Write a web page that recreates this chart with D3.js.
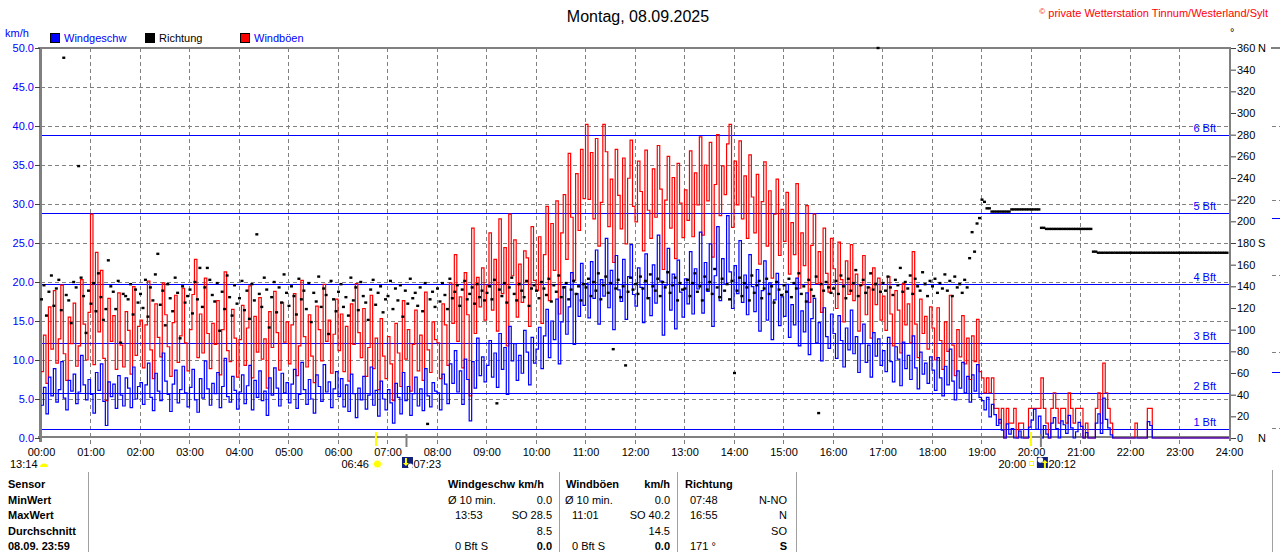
<!DOCTYPE html>
<html>
<head>
  <meta charset="utf-8">
  <title>Wind Montag, 08.09.2025</title>
  <script src="https://d3js.org/d3.v7.min.js"></script>
  <style>
    body { margin: 0; background: #fff; }
    svg text { font-family: "Liberation Sans", Arial, sans-serif; font-size: 11px; }
  </style>
</head>
<body>
  <div id="chart"></div>
</body>

<script>
  // one value every 3 minutes, one line per hour (20 values)
  const stepMin = 3;

  // Windgeschwindigkeit km/h
  const windSpeed = [
    4.2,6.5,3.1,7.8,5.4,8.9,4.6,6.2,9.8,5.1,3.6,7.4,6.0,8.2,4.4,5.9,10.6,6.8,4.9,7.5,
    5.6,3.2,8.4,6.1,9.5,4.7,1.6,7.2,5.3,6.9,3.8,8.0,5.5,4.1,7.7,6.4,3.9,9.1,5.0,6.6,
    7.1,4.3,6.8,9.6,5.2,3.5,8.3,6.0,4.8,10.9,7.3,5.6,3.4,6.9,8.7,4.5,6.2,9.2,5.8,4.0,
    6.5,8.8,4.9,3.3,7.6,5.1,9.9,6.3,4.2,7.0,5.7,8.4,3.9,6.6,10.2,5.3,4.6,7.9,6.1,3.7,
    5.9,8.1,4.4,6.7,9.3,3.6,7.4,5.2,8.6,4.8,6.0,2.9,7.7,5.5,9.0,6.4,4.1,8.3,5.8,7.1,
    4.5,6.9,8.8,3.8,5.6,9.7,6.2,4.3,7.5,5.0,3.2,8.1,6.6,4.7,9.4,5.9,7.2,3.9,6.3,8.5,
    5.3,7.6,4.0,6.8,3.4,8.2,5.7,2.6,6.4,4.9,7.9,3.7,5.5,9.1,4.2,6.1,2.8,7.3,5.0,3.6,
    6.2,4.5,1.9,7.0,5.2,3.1,8.4,4.8,6.6,2.9,5.7,7.8,4.1,6.3,3.5,8.9,5.4,4.0,7.1,6.0,
    5.8,3.6,8.2,6.9,4.4,9.5,7.0,11.2,5.9,8.6,4.3,10.1,7.5,2.2,9.8,6.4,12.8,8.0,10.4,7.2,
    9.3,12.5,7.8,10.9,6.5,13.4,8.8,11.6,5.6,14.3,9.9,12.1,7.4,10.6,8.3,13.8,11.0,6.8,12.9,9.6,
    11.4,14.2,8.9,13.1,16.5,10.3,15.0,12.6,17.8,9.5,14.9,19.4,13.3,16.8,21.2,12.0,18.5,15.6,22.4,17.0,
    19.8,15.4,22.6,17.9,24.1,14.6,20.3,18.2,25.6,16.7,21.5,13.9,23.4,19.0,17.5,22.9,15.2,20.7,24.8,18.4,
    16.9,21.8,19.3,14.8,23.6,18.0,15.7,22.2,17.3,26.0,20.1,13.2,19.6,24.3,16.4,21.0,14.0,22.8,18.7,15.5,
    20.4,17.2,23.9,15.9,21.7,19.1,26.4,16.0,22.5,18.8,24.9,14.3,20.8,27.1,17.6,23.0,19.7,28.5,21.3,16.6,
    22.1,18.5,25.3,17.4,20.9,15.8,23.5,19.4,16.2,21.6,13.7,18.9,22.7,15.1,19.9,12.6,17.7,21.1,14.4,18.1,
    15.6,19.7,12.9,17.1,14.5,20.5,11.8,16.3,13.6,18.6,10.7,15.3,17.9,12.2,14.8,9.9,16.7,13.0,11.5,15.9,
    13.4,10.2,15.7,12.5,9.1,14.1,11.3,16.4,10.8,13.0,8.4,12.1,14.6,9.7,11.9,7.8,13.5,10.5,12.7,9.3,
    11.2,8.5,12.9,9.8,7.2,11.7,10.1,6.7,12.3,8.9,10.6,7.5,13.1,9.0,6.3,11.0,8.2,9.6,7.0,10.4,
    8.7,6.1,10.3,7.7,5.4,9.2,6.8,11.4,7.3,4.9,8.6,6.4,9.7,5.8,7.9,4.6,8.1,6.0,9.4,5.2,
    4.8,3.6,5.2,2.7,4.3,3.0,1.6,2.4,1.0,0.0,1.8,0.5,1.2,0.0,0.0,0.9,0.0,0.0,0.0,1.4,
    2.3,3.7,1.1,2.8,0.0,1.6,0.5,0.0,1.9,2.6,1.2,0.0,2.2,1.7,0.6,2.9,1.3,0.0,0.8,2.0,
    1.5,0.0,0.7,0.0,0.0,0.0,1.9,3.1,0.6,5.1,2.4,1.3,0.4,0.0,0.0,0.0,0.0,0.0,0.0,0.0,
    0.0,0.0,0.0,0.0,0.0,0.0,0.0,2.1,1.6,0.0,0.0,0.0,0.0,0.0,0.0,0.0,0.0,0.0,0.0,0.0,
    0.0,0.0,0.0,0.0,0.0,0.0,0.0,0.0,0.0,0.0,0.0,0.0,0.0,0.0,0.0,0.0,0.0,0.0,0.0,0.0
  ];

  // Windböen km/h
  const windGust = [
    8.5,13.2,7.0,16.8,11.4,18.9,9.6,12.7,19.6,10.8,7.4,15.5,12.1,17.3,9.2,11.8,20.3,14.6,10.0,16.1,
    28.7,9.4,23.8,13.6,21.5,10.2,4.8,17.9,12.4,15.7,8.8,18.6,11.9,9.1,16.2,13.8,8.2,19.4,10.6,14.3,
    15.1,9.0,14.5,20.1,11.3,7.6,17.2,12.9,10.4,19.9,15.8,11.7,7.9,14.8,18.3,9.7,13.1,19.2,12.2,8.6,
    13.9,18.4,22.9,10.3,15.9,10.9,20.5,13.4,8.9,14.7,12.0,17.6,8.1,13.9,21.3,11.2,9.8,16.5,12.8,7.8,
    12.6,17.0,9.3,14.1,19.5,7.7,15.6,11.0,18.0,10.1,12.7,6.4,16.2,11.6,18.8,13.5,8.7,17.4,12.3,14.9,
    9.5,14.5,18.5,8.0,11.8,20.2,13.0,9.1,15.8,10.5,7.1,16.9,13.9,9.9,19.7,12.4,15.1,8.3,13.3,17.8,
    11.2,15.9,8.5,14.3,7.3,17.2,12.0,19.8,13.5,10.3,16.6,7.9,11.6,18.3,8.9,12.8,6.2,15.3,10.5,7.6,
    13.0,9.5,4.8,14.7,10.9,6.6,17.6,10.1,13.9,6.0,12.0,16.4,8.6,13.2,7.4,18.7,11.3,8.4,14.9,12.6,
    12.2,7.6,17.2,14.5,9.3,19.9,14.7,23.5,12.4,18.1,9.0,21.2,15.8,5.4,26.9,13.4,20.6,16.8,21.8,15.1,
    19.5,26.3,16.4,22.9,13.7,28.1,18.5,24.4,11.8,28.7,20.8,25.4,15.5,22.3,17.4,24.0,23.1,14.3,27.1,20.2,
    18.9,25.8,14.7,23.5,29.7,17.6,27.5,21.5,30.4,15.9,26.3,31.2,22.9,36.5,28.3,20.2,33.9,26.6,37.0,30.7,
    40.2,30.6,36.6,28.1,38.4,24.6,30.2,40.2,36.7,27.1,33.2,22.5,37.0,31.1,26.8,35.9,24.9,33.3,38.2,29.7,
    27.7,35.5,31.6,24.0,36.9,29.2,25.6,34.5,28.3,37.5,31.9,21.6,30.5,36.1,26.9,33.4,23.0,35.2,30.1,25.7,
    31.8,27.9,36.8,25.8,34.0,29.9,38.6,26.0,35.0,30.4,37.9,23.2,32.5,38.9,28.5,34.9,31.2,37.7,40.2,27.0,
    35.5,29.9,38.1,28.1,33.6,25.6,36.3,30.9,26.3,33.8,22.3,30.3,35.4,24.6,31.7,20.5,28.7,33.2,23.4,29.3,
    25.2,31.5,21.0,27.6,23.5,32.6,19.2,26.3,22.1,29.8,17.4,24.7,28.7,19.8,23.9,16.1,26.9,21.1,18.7,25.6,
    21.7,16.6,25.1,20.3,14.9,22.7,18.4,24.8,17.6,21.0,13.7,19.6,23.4,15.8,19.3,12.8,21.8,17.1,20.5,15.1,
    18.2,13.8,20.7,15.9,11.8,18.9,16.4,10.9,19.8,14.5,17.2,12.2,23.9,14.6,10.3,17.8,13.4,15.6,11.4,16.8,
    14.1,10.0,16.7,12.5,8.8,14.9,11.1,18.3,11.9,8.0,13.9,10.4,15.7,9.5,12.8,7.5,13.1,9.8,15.2,8.5,
    7.7,5.8,7.7,5.8,7.7,3.8,3.8,1.9,3.8,0.0,3.8,1.9,1.9,3.8,0.0,1.9,1.9,0.0,0.0,3.8,
    3.8,3.8,3.8,3.8,7.7,3.8,1.9,0.0,3.8,5.8,3.8,1.9,3.8,3.8,1.9,5.8,3.8,1.9,3.8,3.8,
    3.8,0.0,1.9,0.0,0.0,0.0,3.8,5.8,1.9,9.6,5.8,3.8,1.9,0.0,0.0,0.0,0.0,0.0,0.0,0.0,
    0.0,0.0,1.9,0.0,0.0,0.0,0.0,3.8,3.8,0.0,0.0,0.0,0.0,0.0,0.0,0.0,0.0,0.0,0.0,0.0,
    0.0,0.0,0.0,0.0,0.0,0.0,0.0,0.0,0.0,0.0,0.0,0.0,0.0,0.0,0.0,0.0,0.0,0.0,0.0,0.0
  ];

  // Windrichtung in Grad
  const windDir = [
    128,141,113,135,150,122,138,146,118,351,132,127,106,144,139,251,148,131,97,136,
    124,143,117,152,130,109,119,164,140,135,119,145,88,133,131,128,142,114,137,125,
    133,120,146,112,139,127,151,170,123,136,104,142,129,117,148,134,92,140,125,131,
    137,115,144,128,157,121,139,157,146,132,126,143,99,135,119,150,130,113,141,124,
    129,145,118,136,110,142,127,188,133,121,148,137,102,130,144,116,139,125,151,134,
    122,140,131,114,147,128,136,119,143,107,134,126,149,121,138,132,96,145,128,117,
    135,142,121,130,113,148,127,139,118,144,131,125,109,137,146,123,134,140,116,128,
    131,145,119,138,127,141,112,136,124,147,129,134,122,139,117,143,13,128,135,121,
    138,126,143,132,119,147,129,135,141,122,137,145,128,133,139,124,142,130,136,127,
    134,140,128,146,32,137,131,143,125,139,148,133,127,142,136,130,145,122,138,141,
    136,129,144,138,132,147,126,141,135,150,130,139,143,128,137,145,133,140,127,142,
    139,147,131,144,136,152,128,141,149,134,143,82,138,146,130,140,67,135,148,137,
    142,133,149,138,145,129,151,140,136,147,131,144,139,153,134,141,148,127,143,137,
    138,146,131,143,152,135,140,127,149,137,144,133,156,139,130,147,136,142,128,145,
    60,136,148,131,143,139,127,150,134,141,145,129,138,147,133,140,125,144,137,132,
    141,135,147,130,143,138,152,133,140,126,146,137,131,149,23,142,136,144,139,134,
    138,145,133,150,140,129,147,136,143,155,131,141,146,134,139,152,137,142,360,135,
    143,136,149,139,132,146,141,157,135,144,138,150,133,147,140,136,153,142,131,145,
    140,147,134,143,138,151,136,145,131,149,139,142,134,146,139,166,190,172,198,203,
    220,218,212,212,209,209,209,209,209,209,209,209,211,211,211,211,211,211,211,211,
    211,211,211,211,194,194,193,193,193,193,193,193,193,193,193,193,193,193,193,193,
    193,193,193,193,193,172,172,171,171,171,171,171,171,171,171,171,171,171,171,171,
    171,171,171,171,171,171,171,171,171,171,171,171,171,171,171,171,171,171,171,171,
    171,171,171,171,171,171,171,171,171,171,171,171,171,171,171,171,171,171,171,171
  ];

  // axis ticks and labels
  const speedTicks = [0, 5, 10, 15, 20, 25, 30, 35, 40, 45, 50];
  const dirTicks = [0, 20, 40, 60, 80, 100, 120, 140, 160, 180, 200, 220, 240, 260, 280, 300, 320, 340, 360];
  const dirLetters = [[0, "N"], [180, "S"], [360, "N"]];
  const hourLabels = ["00:00","01:00","02:00","03:00","04:00","05:00","06:00","07:00","08:00","09:00","10:00","11:00",
    "12:00","13:00","14:00","15:00","16:00","17:00","18:00","19:00","20:00","21:00","22:00","23:00","24:00"];

  // Beaufort Grenzen in km/h
  const bftLimits = [1.1, 5.8, 12.2, 19.8, 28.8, 38.9];
  const bftLabels = ["1 Bft", "2 Bft", "3 Bft", "4 Bft", "5 Bft", "6 Bft"];

  // Sonne / Mond in Minuten
  const sunrise = 406, sunset = 1200, moonset = 443, moonrise = 1212;

  // Tabelle unten
  const rowLabels = ["Sensor", "MinWert", "MaxWert", "Durchschnitt", "08.09.  23:59"];
  const speedStats = [["Ø 10 min.", "0.0"], ["13:53", "SO 28.5"], ["", "8.5"], ["0 Bft S", "0.0"]];
  const gustStats = [["Ø 10 min.", "0.0"], ["11:01", "SO 40.2"], ["", "14.5"], ["0 Bft S", "0.0"]];
  const dirStats = [["07:48", "N-NO"], ["16:55", "N"], ["", "SO"], ["171 °", "S"]];

  const svg = d3.select("#chart").append("svg")
    .attr("width", 1280)
    .attr("height", 552);

  const x = d3.scaleLinear().domain([0, 1440]).range([41, 1229]);
  const y = d3.scaleLinear().domain([0, 50]).range([438, 48]);
  const yDir = d3.scaleLinear().domain([0, 360]).range([438, 48]);

  // title + copyright
  svg.append("text").attr("x", 638).attr("y", 22).attr("text-anchor", "middle")
    .style("font-size", "16px").attr("fill", "#000").text("Montag, 08.09.2025");
  const copy = svg.append("text").attr("x", 1268).attr("y", 17).attr("text-anchor", "end").attr("fill", "#ff0000");
  copy.append("tspan").style("font-size", "8px").attr("dy", -3).text("©");
  copy.append("tspan").attr("dy", 3).text(" private Wetterstation Tinnum/Westerland/Sylt");
  svg.append("text").attr("x", 1230).attr("y", 36).attr("fill", "#000").text("°");

  // legend
  svg.append("text").attr("x", 5).attr("y", 37).attr("fill", "#0000ff").text("km/h");
  const legend = [["Windgeschw", "#0000ff", "#0000ff", 50], ["Richtung", "#000", "#000", 145], ["Windböen", "#ff0000", "#0000ff", 240]];
  legend.forEach(function(l) {
    svg.append("rect").attr("x", l[3] + 0.5).attr("y", 33.5).attr("width", 9).attr("height", 9)
      .attr("fill", l[1]).attr("stroke", "#000");
    svg.append("text").attr("x", l[3] + 14).attr("y", 42).attr("fill", l[2]).text(l[0]);
  });

  // dashed grid
  const grid = svg.append("g").attr("stroke", "#808080").attr("stroke-dasharray", "4,3")
    .attr("shape-rendering", "crispEdges");
  grid.selectAll(".hg").data(speedTicks.slice(1, -1)).join("line")
    .attr("x1", 41).attr("x2", 1229)
    .attr("y1", d => y(d)).attr("y2", d => y(d));
  grid.selectAll(".vg").data(d3.range(1, 24)).join("line")
    .attr("x1", d => x(d * 60)).attr("x2", d => x(d * 60))
    .attr("y1", 48).attr("y2", 447);

  // Beaufort lines
  const bft = svg.append("g");
  bft.selectAll("line").data(bftLimits).join("line")
    .attr("x1", 41).attr("x2", 1229)
    .attr("y1", d => Math.round(y(d)) + 0.5).attr("y2", d => Math.round(y(d)) + 0.5)
    .attr("stroke", "#0000ff").attr("stroke-width", 1);
  bft.selectAll("text").data(bftLimits).join("text")
    .attr("x", 1216).attr("y", d => Math.round(y(d)) - 3).attr("text-anchor", "end")
    .attr("fill", "#0000ff").text((d, i) => bftLabels[i]);

  // frame
  const frame = svg.append("g").attr("stroke", "#808080").attr("shape-rendering", "crispEdges");
  frame.append("line").attr("x1", 40).attr("x2", 40).attr("y1", 47).attr("y2", 442).attr("stroke-width", 3);
  frame.append("line").attr("x1", 38).attr("x2", 1231).attr("y1", 48).attr("y2", 48).attr("stroke-width", 2);
  frame.append("line").attr("x1", 1230).attr("x2", 1230).attr("y1", 47).attr("y2", 441).attr("stroke-width", 2);
  frame.append("line").attr("x1", 38).attr("x2", 1231).attr("y1", 437).attr("y2", 437).attr("stroke-width", 2);

  // left axis
  const yAxis = svg.append("g").attr("transform", "translate(40,0)")
    .call(d3.axisLeft(y).tickValues(speedTicks).tickFormat(d3.format(".1f")).tickSize(5).tickPadding(1));
  yAxis.select(".domain").remove();
  yAxis.selectAll("line").attr("stroke", "#404040");
  yAxis.selectAll("text").attr("fill", "#0000ff").style("font-size", "11px")
    .style("font-family", "'Liberation Sans', Arial, sans-serif");

  // right axis
  const dAxis = svg.append("g").attr("transform", "translate(1231,0)")
    .call(d3.axisRight(yDir).tickValues(dirTicks).tickSize(5).tickPadding(1));
  dAxis.select(".domain").remove();
  dAxis.selectAll("line").attr("stroke", "#404040");
  dAxis.selectAll("text").attr("fill", "#000").style("font-size", "11px")
    .style("font-family", "'Liberation Sans', Arial, sans-serif");
  svg.selectAll(".dirLetter").data(dirLetters).join("text")
    .attr("x", 1258).attr("y", d => yDir(d[0])).attr("dy", "0.32em")
    .attr("fill", "#000").text(d => d[1]);

  // bottom axis
  const xAxis = svg.append("g").attr("transform", "translate(0,437)")
    .call(d3.axisBottom(x).tickValues(d3.range(0, 1441, 60)).tickFormat((d, i) => hourLabels[i])
      .tickSize(0).tickPadding(11));
  xAxis.select(".domain").remove();
  xAxis.selectAll("text").attr("fill", "#000").style("font-size", "11px")
    .style("font-family", "'Liberation Sans', Arial, sans-serif");

  // series as steps
  const toPts = arr => arr.map((v, i) => [i * stepMin, v]).concat([[1440, arr[arr.length - 1]]]);
  const step = d3.line()
    .x(d => x(d[0]))
    .y(d => y(d[1]))
    .curve(d3.curveStepAfter);

  svg.append("path").datum(toPts(windGust))
    .attr("fill", "none").attr("stroke", "#ff0000").attr("stroke-width", 1.2)
    .attr("d", step);
  svg.append("path").datum(toPts(windSpeed))
    .attr("fill", "none").attr("stroke", "#0000ff").attr("stroke-width", 1.2)
    .attr("d", step);

  // direction dots
  svg.selectAll(".dir").data(windDir).join("rect")
    .attr("x", (d, i) => x(i * stepMin) - 1)
    .attr("y", d => yDir(d) - 1.2)
    .attr("width", 3).attr("height", 2.4)
    .attr("fill", "#000");

  // sun + moon marks on the axis
  svg.append("line").attr("x1", x(sunrise)).attr("x2", x(sunrise)).attr("y1", 432).attr("y2", 446)
    .attr("stroke", "#ffff00").attr("stroke-width", 2);
  svg.append("line").attr("x1", x(sunset)).attr("x2", x(sunset)).attr("y1", 432).attr("y2", 446)
    .attr("stroke", "#ffff00").attr("stroke-width", 2);
  svg.append("line").attr("x1", x(moonset)).attr("x2", x(moonset)).attr("y1", 434).attr("y2", 447)
    .attr("stroke", "#808080").attr("stroke-width", 2);
  svg.append("line").attr("x1", x(moonrise)).attr("x2", x(moonrise)).attr("y1", 434).attr("y2", 447)
    .attr("stroke", "#808080").attr("stroke-width", 2);

  // labels under the axis
  svg.append("text").attr("x", 10).attr("y", 468).text("13:14");
  svg.append("path").attr("d", "M40,467 a4,3.5 0 0 1 8,0 Z").attr("fill", "#ffff00");
  svg.append("text").attr("x", x(sunrise) - 7).attr("y", 468).attr("text-anchor", "end").text("06:46");
  const sun = svg.append("g").attr("transform", `translate(${x(sunrise) + 1.5},464)`);
  sun.append("circle").attr("r", 3.5).attr("fill", "#ffff00");
  sun.selectAll("line").data(d3.range(8)).join("line")
    .attr("x1", d => Math.cos(d * Math.PI / 4) * 4.5).attr("y1", d => Math.sin(d * Math.PI / 4) * 4.5)
    .attr("x2", d => Math.cos(d * Math.PI / 4) * 6).attr("y2", d => Math.sin(d * Math.PI / 4) * 6)
    .attr("stroke", "#ffff80").attr("stroke-width", 1);

  // moon set box
  const mSet = svg.append("g").attr("transform", `translate(${x(moonset) - 4.5},457)`);
  mSet.append("rect").attr("width", 11).attr("height", 11).attr("fill", "#10207a");
  mSet.append("path").attr("d", "M3,1 v5 h-2 l3,3 l3,-3 h-2 v-5 Z").attr("fill", "#ffff00");
  mSet.append("circle").attr("cx", 8.5).attr("cy", 9).attr("r", 2.5).attr("fill", "#fff");
  svg.append("text").attr("x", x(moonset) + 7).attr("y", 468).text("07:23");

  svg.append("text").attr("x", x(sunset) - 5).attr("y", 468).attr("text-anchor", "end").text("20:00");
  svg.append("rect").attr("x", x(sunset) - 1.5).attr("y", 461.5).attr("width", 4).attr("height", 4)
    .attr("fill", "none").attr("stroke", "#ffff00");
  const mRise = svg.append("g").attr("transform", `translate(${x(moonrise) - 4},457)`);
  mRise.append("rect").attr("width", 11).attr("height", 11).attr("fill", "#10207a");
  mRise.append("circle").attr("cx", 3.5).attr("cy", 3).attr("r", 2.8).attr("fill", "#fff");
  mRise.append("path").attr("d", "M7,11 v-5 h-2 l3,-3 l3,3 h-2 v5 Z").attr("fill", "#ffff00");
  svg.append("text").attr("x", x(moonrise) + 7.5).attr("y", 468).text("20:12");

  // right edge: bits of the next chart
  const nb = svg.append("g").attr("shape-rendering", "crispEdges");
  nb.append("line").attr("x1", 1271).attr("x2", 1280).attr("y1", 48).attr("y2", 48).attr("stroke", "#808080").attr("stroke-width", 2);
  nb.selectAll(".nbd").data([126, 200, 275, 352, 428]).join("line")
    .attr("x1", 1272).attr("x2", 1280).attr("y1", d => d).attr("y2", d => d)
    .attr("stroke", "#808080").attr("stroke-dasharray", "4,3");
  nb.selectAll(".nbb").data([218, 372]).join("line")
    .attr("x1", 1272).attr("x2", 1280).attr("y1", d => d).attr("y2", d => d)
    .attr("stroke", "#0000ff");
  nb.append("line").attr("x1", 1272.5).attr("x2", 1272.5).attr("y1", 470).attr("y2", 552).attr("stroke", "#a0a0a0");

  // table
  const tbl = svg.append("g");
  [88, 559, 677, 796].forEach(function(sx) {
    tbl.append("line").attr("x1", sx + 0.5).attr("x2", sx + 0.5).attr("y1", 472).attr("y2", 552)
      .attr("stroke", "#a0a0a0");
  });
  const rowY = i => 488 + i * 15.6;
  rowLabels.forEach(function(r, i) {
    tbl.append("text").attr("x", 8).attr("y", rowY(i)).style("font-weight", "bold").text(r);
  });
  tbl.append("text").attr("x", 448).attr("y", rowY(0)).style("font-weight", "bold").text("Windgeschw km/h");
  tbl.append("text").attr("x", 566).attr("y", rowY(0)).style("font-weight", "bold").text("Windböen");
  tbl.append("text").attr("x", 670).attr("y", rowY(0)).attr("text-anchor", "end").style("font-weight", "bold").text("km/h");
  tbl.append("text").attr("x", 685).attr("y", rowY(0)).style("font-weight", "bold").text("Richtung");

  function statCol(stats, xl, xl0, xr) {
    stats.forEach(function(s, i) {
      tbl.append("text").attr("x", i === 0 ? xl0 : xl).attr("y", rowY(i + 1)).text(s[0]);
      tbl.append("text").attr("x", xr).attr("y", rowY(i + 1)).attr("text-anchor", "end")
        .style("font-weight", i === 3 ? "bold" : "normal").text(s[1]);
    });
  }
  statCol(speedStats, 455, 448, 552);
  statCol(gustStats, 572, 565, 670);
  statCol(dirStats, 690, 690, 787);
</script>

</html>
